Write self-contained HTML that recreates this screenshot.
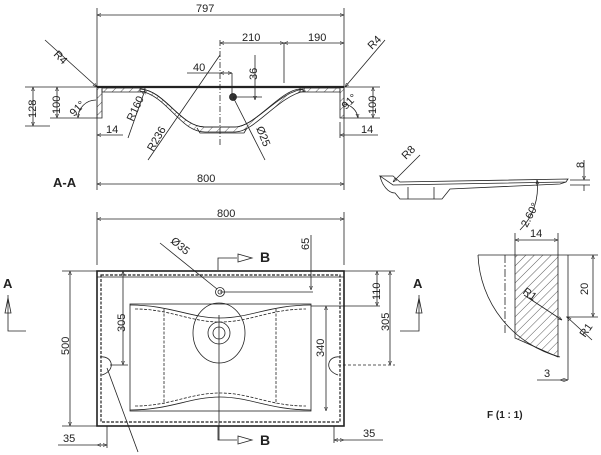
<!DOCTYPE html>
<html><head><meta charset="utf-8"><style>
html,body{margin:0;padding:0;background:#fff;}
svg{display:block;}
text{font-family:"Liberation Sans",sans-serif;fill:#222;}
</style></head><body>
<svg width="601" height="455" viewBox="0 0 601 455" xmlns="http://www.w3.org/2000/svg">
<defs>
<marker id="a" viewBox="0 0 10 10" refX="10" refY="5" markerWidth="5" markerHeight="5" orient="auto-start-reverse"><path d="M0,1 L10,5 L0,9 z" fill="none" stroke="#222" stroke-width="1.2"/></marker>
<pattern id="h" width="6" height="6" patternUnits="userSpaceOnUse" patternTransform="rotate(45)"><line x1="0" y1="0" x2="0" y2="6" stroke="#333" stroke-width="0.8"/></pattern>
<clipPath id="fc"><path d="M515,255 L558,255 L558,357 L515,338 Z"/></clipPath>
</defs>
<g stroke="#222" stroke-width="0.8" fill="none">
<!-- TOP SECTION A-A -->
<line x1="97" y1="8" x2="97" y2="190"/><line x1="344" y1="8" x2="344" y2="190"/>
<line x1="97" y1="15" x2="344" y2="15" marker-start="url(#a)" marker-end="url(#a)"/>
<line x1="220" y1="40" x2="220" y2="145" stroke-dasharray="6,2,1,2"/>
<line x1="220" y1="43" x2="284" y2="43" marker-start="url(#a)" marker-end="url(#a)"/>
<line x1="284" y1="43" x2="344" y2="43" marker-start="url(#a)" marker-end="url(#a)"/>
<line x1="284" y1="43" x2="284" y2="83"/>
<line x1="97" y1="87" x2="344" y2="87" stroke-width="2.2"/>
<path d="M102,88 L145,88 L145,92 L102,92 Z" fill="url(#h)"/>
<path d="M300,88 L340,88 L340,92 L300,92 Z" fill="url(#h)"/>
<path d="M140,89 C165,90 180,127 205,127 L235,127 C255,127 280,90 305,89"/>
<path d="M140,91 C168,96 180,132 205,132 L235,132 C255,132 278,96 305,91 L300,89 C280,90 255,127 235,127 L205,127 C180,127 165,90 140,89 Z" fill="url(#h)"/>
<path d="M197,128 L200,133 L244,133 L247,128"/>
<path d="M97,88 L97,118 L102,118 L102,89" fill="url(#h)"/>
<path d="M340,89 L340,118 L344,118 L344,88" fill="url(#h)"/>
<circle cx="233" cy="97" r="3.5" fill="#333"/>
<line x1="233" y1="97" x2="262" y2="97"/>
<line x1="255" y1="55" x2="255" y2="100" marker-end="url(#a)"/>
<line x1="187" y1="73" x2="220" y2="73"/>
<line x1="220" y1="73" x2="232" y2="73" marker-start="url(#a)" marker-end="url(#a)"/>
<line x1="232" y1="73" x2="232" y2="95"/>
<line x1="233" y1="97" x2="265" y2="160"/>
<line x1="148" y1="160" x2="220" y2="55"/>
<line x1="128" y1="138" x2="145" y2="90" marker-end="url(#a)"/>
<line x1="45" y1="40" x2="97" y2="87" marker-end="url(#a)"/>
<line x1="385" y1="40" x2="345" y2="87" marker-end="url(#a)"/>
<line x1="25" y1="87" x2="97" y2="87"/>
<line x1="25" y1="126" x2="50" y2="126"/>
<line x1="33" y1="87" x2="33" y2="126" marker-start="url(#a)" marker-end="url(#a)"/>
<line x1="50" y1="118" x2="97" y2="118"/>
<line x1="57" y1="87" x2="57" y2="118" marker-start="url(#a)" marker-end="url(#a)"/>
<path d="M78,118 A18,18 0 0 1 96,100" marker-start="url(#a)"/>
<line x1="344" y1="118" x2="380" y2="118"/><line x1="344" y1="87" x2="380" y2="87"/>
<line x1="373" y1="87" x2="373" y2="118" marker-start="url(#a)" marker-end="url(#a)"/>
<path d="M358,118 A16,16 0 0 0 344,104" marker-start="url(#a)"/>
<line x1="97" y1="135" x2="123" y2="135" marker-start="url(#a)"/>
<line x1="340" y1="122" x2="340" y2="138"/>
<line x1="340" y1="135" x2="378" y2="135" marker-start="url(#a)"/>
<line x1="97" y1="184" x2="344" y2="184" marker-start="url(#a)" marker-end="url(#a)"/>

<!-- BOTTOM PLAN -->
<line x1="97" y1="212" x2="97" y2="265"/><line x1="344" y1="212" x2="344" y2="265"/>
<line x1="97" y1="219" x2="344" y2="219" marker-start="url(#a)" marker-end="url(#a)"/>
<rect x="97" y="271" width="247" height="155" stroke-width="1.6"/>
<line x1="97" y1="277" x2="344" y2="277"/>
<rect x="101" y="275" width="239" height="147" stroke-dasharray="3,1.5" stroke-width="1.2"/>
<rect x="130" y="304" width="181" height="107"/>
<path d="M130,305 C170,305 190,318 220,318 C250,318 270,305 311,305"/>
<path d="M135,309 C170,309 190,322 220,322 C250,322 270,309 306,309" stroke-dasharray="3,1.5"/>
<path d="M130,410 C170,410 190,397 220,397 C250,397 270,410 311,410"/>
<path d="M135,406 C170,406 190,393 220,393 C250,393 270,406 306,406" stroke-dasharray="3,1.5"/>
<line x1="164" y1="309" x2="164" y2="404" stroke-dasharray="3,1.5"/>
<line x1="276" y1="309" x2="276" y2="404" stroke-dasharray="3,1.5"/>
<ellipse cx="219" cy="333" rx="26" ry="30"/>
<circle cx="219" cy="333" r="11"/><circle cx="219" cy="333" r="6"/>
<line x1="219" y1="315" x2="219" y2="440"/>
<circle cx="220" cy="292" r="4.5"/><circle cx="220" cy="292" r="2"/>
<line x1="160" y1="243" x2="217" y2="289"/>
<line x1="220" y1="292" x2="313" y2="292"/>
<line x1="311" y1="235" x2="311" y2="290" marker-end="url(#a)"/>
<path d="M218,270 L218,258 L237,258"/><path d="M238,254 L252,258 L238,262 z"/>
<path d="M218,426 L218,440 L237,440"/><path d="M238,436 L252,440 L238,444 z"/>
<path d="M100,357 C112,355 117,370 102,375"/>
<path d="M340,357 C328,355 323,370 338,375"/>
<line x1="107" y1="368" x2="138" y2="452"/>
<line x1="62" y1="271" x2="97" y2="271"/><line x1="62" y1="426" x2="97" y2="426"/>
<line x1="70" y1="271" x2="70" y2="426" marker-start="url(#a)" marker-end="url(#a)"/>
<line x1="123" y1="271" x2="123" y2="365" marker-start="url(#a)" marker-end="url(#a)"/>
<line x1="110" y1="365" x2="128" y2="365"/>
<line x1="344" y1="271" x2="395" y2="271"/>
<line x1="311" y1="306" x2="380" y2="306"/>
<line x1="377" y1="271" x2="377" y2="306" marker-start="url(#a)" marker-end="url(#a)"/>
<line x1="390" y1="271" x2="390" y2="365" marker-start="url(#a)" marker-end="url(#a)"/>
<line x1="338" y1="365" x2="395" y2="365" stroke-dasharray="3,2"/>
<line x1="326" y1="306" x2="326" y2="411" marker-start="url(#a)" marker-end="url(#a)"/>
<line x1="58" y1="445" x2="97" y2="445"/>
<line x1="97" y1="445" x2="107" y2="445" marker-start="url(#a)" marker-end="url(#a)"/>
<line x1="107" y1="426" x2="107" y2="448"/>
<line x1="334" y1="426" x2="334" y2="443"/>
<line x1="334" y1="440" x2="344" y2="440" marker-start="url(#a)" marker-end="url(#a)"/>
<line x1="344" y1="440" x2="383" y2="440"/>
<path d="M8,295 L8,331 L26,331"/><path d="M5,313 L8,298 L11,313 z"/>
<path d="M419,295 L419,331 L400,331"/><path d="M416,313 L419,298 L422,313 z"/>

<!-- RIGHT SIDE VIEW -->
<path d="M380,176 L393,176 L400,182 L568,179 L566,182 L393,185 Z"/>
<path d="M380,176 C382,185 388,193 395,193 L400,199 L442,199 L450,189 L560,184 L566,182"/>
<line x1="408" y1="187" x2="408" y2="199"/><line x1="434" y1="187" x2="434" y2="199"/>
<path d="M420,155 L393,182" marker-end="url(#a)"/>
<line x1="570" y1="180" x2="590" y2="180"/><line x1="570" y1="185" x2="590" y2="185"/>
<line x1="584" y1="160" x2="584" y2="180" marker-end="url(#a)"/>
<line x1="584" y1="191" x2="584" y2="185"/>
<path d="M537,180 A60,60 0 0 1 520,230" marker-start="url(#a)"/>
<line x1="537" y1="180" x2="537" y2="186"/>

<!-- DETAIL F -->
<path d="M478,255 A110,110 0 0 0 560,357"/>
<line x1="478" y1="255" x2="568" y2="255"/>
<rect x="515" y="255" width="43" height="103" fill="url(#h)" stroke="none" clip-path="url(#fc)"/>
<path d="M515,255 L515,338 L558,357 L558,255"/>
<line x1="505" y1="255" x2="505" y2="333" stroke-dasharray="8,2,2,2"/>
<line x1="568" y1="255" x2="568" y2="318"/>
<line x1="515" y1="233" x2="515" y2="255"/><line x1="558" y1="233" x2="558" y2="255"/>
<line x1="515" y1="240" x2="558" y2="240" marker-start="url(#a)" marker-end="url(#a)"/>
<line x1="568" y1="255" x2="598" y2="255"/><line x1="566" y1="317" x2="598" y2="317"/>
<line x1="593" y1="255" x2="593" y2="317" marker-start="url(#a)" marker-end="url(#a)"/>
<line x1="524" y1="295" x2="562" y2="320" marker-end="url(#a)"/>
<line x1="592" y1="340" x2="567" y2="317" marker-end="url(#a)"/>
<line x1="568" y1="318" x2="568" y2="380"/>
<line x1="537" y1="380" x2="560" y2="380"/>
<line x1="560" y1="380" x2="568" y2="380" marker-start="url(#a)" marker-end="url(#a)"/>
</g>
<g font-size="11">
<text x="196" y="12">797</text>
<text x="242" y="41">210</text><text x="308" y="41">190</text>
<text x="193" y="71">40</text>
<text x="257" y="80" transform="rotate(-90 257 80)">36</text>
<text x="53" y="55" transform="rotate(45 53 55)">R4</text>
<text x="372" y="50" transform="rotate(-45 372 50)">R4</text>
<text x="36" y="118" transform="rotate(-90 36 118)">128</text>
<text x="60" y="114" transform="rotate(-90 60 114)">100</text>
<text x="74" y="117" transform="rotate(-45 74 117)">91°</text>
<text x="376" y="114" transform="rotate(-90 376 114)">100</text>
<text x="346" y="110" transform="rotate(-45 346 110)">91°</text>
<text x="106" y="133">14</text><text x="361" y="133">14</text>
<text x="133" y="122" transform="rotate(-65 133 122)">R160</text>
<text x="153" y="152" transform="rotate(-60 153 152)">R236</text>
<text x="256" y="128" transform="rotate(68 256 128)">Ø25</text>
<text x="197" y="182">800</text>
<text x="53" y="187" font-size="13" font-weight="bold">A-A</text>
<text x="217" y="217">800</text>
<text x="170" y="242" transform="rotate(40 170 242)">Ø35</text>
<text x="260" y="262" font-size="14" font-weight="bold">B</text>
<text x="260" y="445" font-size="14" font-weight="bold">B</text>
<text x="309" y="250" transform="rotate(-90 309 250)">65</text>
<text x="3" y="288" font-size="13" font-weight="bold">A</text>
<text x="413" y="288" font-size="13" font-weight="bold">A</text>
<text x="69" y="355" transform="rotate(-90 69 355)">500</text>
<text x="125" y="332" transform="rotate(-90 125 332)">305</text>
<text x="380" y="300" transform="rotate(-90 380 300)">110</text>
<text x="389" y="331" transform="rotate(-90 389 331)">305</text>
<text x="324" y="357" transform="rotate(-90 324 357)">340</text>
<text x="63" y="442">35</text><text x="363" y="437">35</text>
<text x="406" y="160" transform="rotate(-45 406 160)">R8</text>
<text x="584" y="168" transform="rotate(-90 584 168)">8</text>
<text x="527" y="228" transform="rotate(-62 527 228)">2.60°</text>
<text x="530" y="237">14</text>
<text x="588" y="295" transform="rotate(-90 588 295)">20</text>
<text x="522" y="293" transform="rotate(35 522 293)">R1</text>
<text x="585" y="338" transform="rotate(-55 585 338)">R1</text>
<text x="544" y="377">3</text>
<text x="487" y="418" font-size="10" font-weight="bold">F (1 : 1)</text>
</g>
</svg>
</body></html>
